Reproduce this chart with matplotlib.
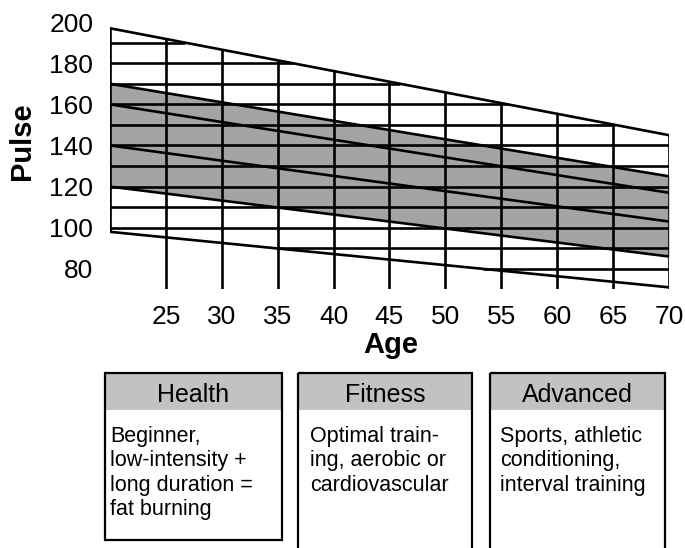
import matplotlib
matplotlib.use('Agg')
import matplotlib.pyplot as plt
import numpy as np
from matplotlib.patches import Rectangle

plt.rcParams['font.family'] = ['Liberation Sans', 'DejaVu Sans']

# heart rate lines against age (max and percentage zones)
ages = [20, 70]
max_hr = [197, 145]
zone_85 = [170, 125]
zone_80 = [160, 117]
zone_70 = [140, 103]
zone_60 = [120, 86]
zone_50 = [98, 71]

age_ticks = [25, 30, 35, 40, 45, 50, 55, 60, 65, 70]
grid_ages = [20] + age_ticks
grid_levels = [80, 90, 100, 110, 120, 130, 140, 150, 160, 170, 180, 190]
pulse_ticks = [80, 100, 120, 140, 160, 180, 200]

zone_names = ['Health', 'Fitness', 'Advanced']
zone_text = [['Beginner,', 'low-intensity +', 'long duration =', 'fat burning'],
             ['Optimal train-', 'ing, aerobic or', 'cardiovascular'],
             ['Sports, athletic', 'conditioning,', 'interval training']]

W, H = 685, 548
fig = plt.figure(figsize=(W / 100, H / 100), dpi=100)

ax_l, ax_r, ax_t, ax_b = 110, 669, 22.1, 289.4
ax = fig.add_axes([ax_l / W, 1 - ax_b / H, (ax_r - ax_l) / W, (ax_b - ax_t) / H])
ax.set_xlim(20, 70)
ax.set_ylim(70, 200)
for sp in ax.spines.values():
    sp.set_visible(False)

lw = 1.9
shade = '#a4a4a4'

ax.fill_between(ages, zone_60, zone_85, color=shade, lw=0, zorder=1)

# vertical grid, from the floor (or the 50% line at the left edge) up to max
for a in grid_ages:
    top = np.interp(a, ages, max_hr)
    bot = np.interp(a, ages, zone_50) if a == ages[0] else 70
    ax.vlines(a, bot, top, color='k', lw=lw, zorder=2)

# horizontal grid, clipped between the 50% line and the max line
for lev in grid_levels:
    x0 = np.interp(lev, zone_50[::-1], ages[::-1])
    x1 = np.interp(lev, max_hr[::-1], ages[::-1])
    if x1 > x0:
        ax.hlines(lev, x0, x1, color='k', lw=lw, zorder=2)

for s in [max_hr, zone_85, zone_80, zone_70, zone_60, zone_50]:
    ax.plot(ages, s, color='k', lw=lw, zorder=3)

ax.set_xticks(age_ticks)
ax.set_yticks(pulse_ticks)
ax.tick_params(length=0, labelsize=19)
ax.tick_params(axis='y', pad=12)
ax.tick_params(axis='x', pad=11.5)

ax.set_ylabel('Pulse', fontsize=21, fontweight='bold', va='center')
ax.yaxis.set_label_coords((22 - ax_l) / (ax_r - ax_l), (ax_b - 141) / (ax_b - ax_t))
ax.set_xlabel('Age', fontsize=21, fontweight='bold', va='baseline')
ax.xaxis.set_label_coords((391 - ax_l) / (ax_r - ax_l), (ax_b - 353) / (ax_b - ax_t))

# zone description boxes below the chart, laid out in pixel space
bx = fig.add_axes([0, 0, 1, 1])
bx.set_xlim(0, W)
bx.set_ylim(H, 0)
bx.axis('off')

boxes = [(105, 282, 540, 5), (298, 472, 560, 12), (490, 665, 560, 10)]
top, head = 373, 410
for (x0, x1, y1, inset), name, lines in zip(boxes, zone_names, zone_text):
    bx.add_patch(Rectangle((x0, top), x1 - x0, head - top, facecolor='#c2c2c2',
                           edgecolor='none', zorder=1))
    bx.add_patch(Rectangle((x0, top), x1 - x0, y1 - top, facecolor='none',
                           edgecolor='k', lw=1.6, zorder=2))
    bx.text((x0 + x1) / 2, 402, name, fontsize=18, ha='center', va='baseline')
    for i, line in enumerate(lines):
        bx.text(x0 + inset, 442 + 24.4 * i, line, fontsize=15.5, ha='left',
                va='baseline')

fig.savefig('out.png', dpi=100)
